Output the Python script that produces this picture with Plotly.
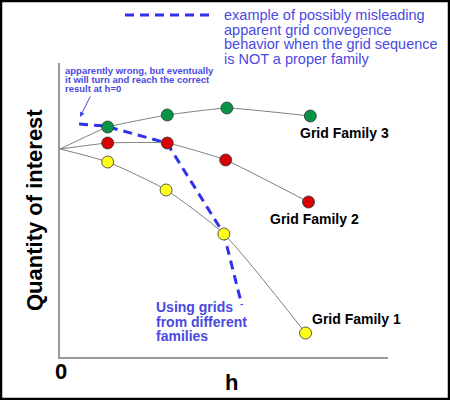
import plotly.graph_objects as go

# ---- data (h = grid spacing, q = quantity of interest) ----
h_family3 = [0, 0.80, 1.80, 2.80, 4.20]
q_family3 = [10.4, 11.5, 12.1, 12.45, 12.05]
h_family2 = [0, 0.80, 1.80, 2.78, 4.17]
q_family2 = [10.4, 10.7, 10.7, 9.85, 7.75]
h_family1 = [0, 0.80, 1.78, 2.75, 4.12]
q_family1 = [10.4, 9.75, 8.35, 6.15, 1.2]
h_mixed = [0.32, 0.755, 1.795, 2.75, 3.05]
q_mixed = [11.65, 11.55, 10.7, 6.15, 2.6]

family_names = ["Grid Family 3", "Grid Family 2", "Grid Family 1"]
family_colors = ["#079447", "#d80000", "#ffff1a"]
family_smoothing = [0.35, 0.35, 0.6]

note_top = ["example of possibly misleading", "apparent grid convegence",
            "behavior when the grid sequence", "is NOT a proper family"]
note_small = ["apparently wrong, but eventually", "it will turn and reach the correct",
              "result at h=0"]
note_mixed = ["Using grids", "from different", "families"]

W, H = 450, 400
L, R, T, B = 60, 62, 63, 43
PW, PH = W - L - R, H - T - B


def px(x):
    return (x - L) / PW


def py(y):
    return (H - B - y) / PH


FONT = "Liberation Sans, Arial, Helvetica, sans-serif"
TBLUE = "#4a4ae0"

fig = go.Figure()

# mixed-family dashed path
fig.add_trace(go.Scatter(x=h_mixed, y=q_mixed, mode="lines",
                         line=dict(color="#3030ee", width=3, dash="9px,6px"),
                         hoverinfo="skip", showlegend=False))

for hs, qs, col, sm in zip([h_family3, h_family2, h_family1],
                           [q_family3, q_family2, q_family1], family_colors, family_smoothing):
    fig.add_trace(go.Scatter(x=hs, y=qs, mode="lines",
                             line=dict(color="#808080", width=1, shape="spline", smoothing=sm),
                             hoverinfo="skip", showlegend=False))
    fig.add_trace(go.Scatter(x=hs[1:], y=qs[1:], mode="markers",
                             marker=dict(size=12, color=col, line=dict(color="#333333", width=0.8)),
                             cliponaxis=False, showlegend=False))

ann = []


def txt(x, y, s, size, color, bold=False, xanchor="left", angle=0):
    ann.append(dict(xref="paper", yref="paper", x=px(x), y=py(y), text=(f"<b>{s}</b>" if bold else s),
                    showarrow=False, xanchor=xanchor, yanchor="middle", textangle=angle,
                    font=dict(family=FONT, size=size, color=color)))


def block(x, y_first, lines, size, spacing, color, bold=False):
    # line spacing in plotly is 1.3 * annotation font size; the spans set the glyph size
    base = spacing / 1.3
    parts = []
    for ln in lines:
        s = f"<b>{ln}</b>" if bold else ln
        parts.append(f'<span style="font-size:{size}px">{s}</span>')
    yc = y_first + spacing * (len(lines) - 1) / 2
    ann.append(dict(xref="paper", yref="paper", x=px(x), y=py(yc), text="<br>".join(parts),
                    showarrow=False, xanchor="left", yanchor="middle", align="left",
                    font=dict(family=FONT, size=base, color=color)))


block(222, 15, note_top, 14.5, 14.7, TBLUE)
block(63, 70, note_small, 9.5, 9.2, TBLUE, bold=True)
block(154, 307, note_mixed, 14, 14.5, TBLUE, bold=True)

# arrow
ann.append(dict(xref="paper", yref="paper", x=px(80), y=py(117), ax=11, ay=-22,
                showarrow=True, arrowhead=2, arrowsize=1,
                arrowwidth=1, arrowcolor=TBLUE, text=""))

txt(298, 133, family_names[0], 14, "black", bold=True)
txt(268, 219, family_names[1], 14, "black", bold=True)
txt(310, 319, family_names[2], 14, "black", bold=True)

txt(61, 371, "0", 22, "black", bold=True, xanchor="center")
txt(231, 382, "h", 22, "black", bold=True, xanchor="center")
txt(34, 210, "Quantity of interest", 22, "black", bold=True, xanchor="center", angle=-90)

shapes = [
    dict(type="line", xref="paper", yref="paper", x0=px(125), x1=px(213), y0=py(15), y1=py(15),
         line=dict(color="#3030ee", width=3, dash="9px,6px")),
    dict(type="rect", xref="paper", yref="paper", x0=px(1), x1=px(449), y0=py(399), y1=py(1),
         line=dict(color="black", width=2.5)),
]

fig.update_layout(
    width=W, height=H, margin=dict(l=L, r=R, t=T, b=B),
    paper_bgcolor="white", plot_bgcolor="white",
    annotations=ann, shapes=shapes, showlegend=False,
    xaxis=dict(range=[0, PW / 59.6], showgrid=False, zeroline=False, showticklabels=False,
               showline=True, linecolor="#999999", linewidth=1.5, ticks=""),
    yaxis=dict(range=[0, PH / 20], showgrid=False, zeroline=False, showticklabels=False,
               showline=True, linecolor="#999999", linewidth=1.5, ticks=""),
)

fig.write_html("out.html", config={"displayModeBar": False},
               post_script="document.body.style.margin='0';document.body.style.overflow='hidden';")
